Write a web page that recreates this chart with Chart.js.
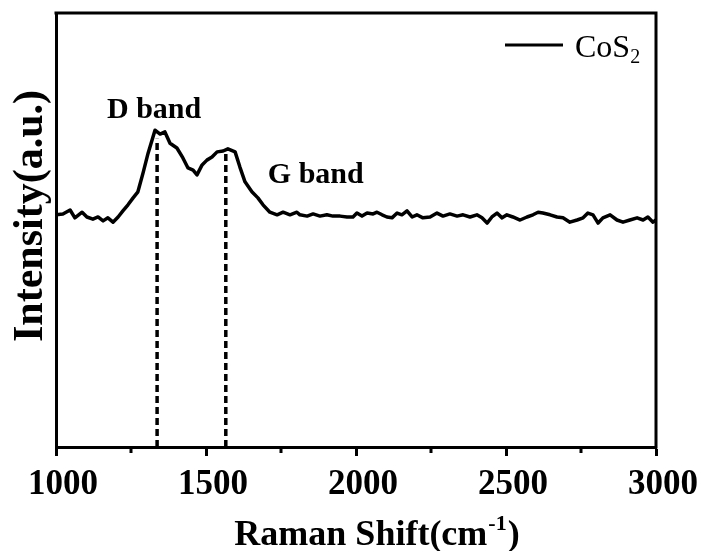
<!DOCTYPE html>
<html><head><meta charset="utf-8">
<script src="https://cdn.jsdelivr.net/npm/chart.js@4/dist/chart.umd.min.js"></script>
<style>html,body{margin:0;padding:0;background:#fff}#wrap{width:704px;height:551px}</style>
</head><body><div id="wrap"><canvas id="c" width="704" height="551"></canvas></div>
<script>
const ramanShift = [1000,1023,1047,1063,1087,1103,1123,1140,1157,1173,1190,1207,1223,1240,1257,1273,1290,1307,1320,1330,1347,1363,1380,1403,1423,1440,1457,1470,1487,1503,1520,1537,1557,1573,1597,1613,1630,1653,1673,1690,1713,1737,1757,1780,1803,1813,1837,1857,1880,1903,1923,1947,1970,1990,2003,2020,2037,2057,2070,2087,2103,2120,2137,2153,2170,2187,2203,2223,2247,2270,2290,2313,2337,2357,2380,2403,2420,2437,2453,2470,2487,2503,2523,2547,2570,2590,2607,2623,2647,2670,2690,2713,2737,2757,2773,2790,2807,2823,2847,2870,2890,2913,2937,2957,2973,2990,3000];
const intensity = [53.5,53.7,54.6,52.8,54.1,53.0,52.5,53.0,52.1,52.8,51.8,53.0,54.4,55.8,57.4,58.8,63.1,67.7,70.7,73.0,72.1,72.6,70.0,68.9,66.6,64.3,63.8,62.7,65.0,66.1,66.8,68.0,68.2,68.7,68.0,64.5,61.1,58.8,57.4,55.8,54.1,53.5,54.1,53.5,54.1,53.5,53.2,53.7,53.2,53.5,53.2,53.2,53.0,53.0,53.9,53.2,53.9,53.7,54.1,53.5,53.0,52.8,53.9,53.5,54.4,53.0,53.5,52.8,53.0,53.9,53.2,53.7,53.2,53.5,53.0,53.5,52.8,51.6,53.0,53.9,52.8,53.5,53.0,52.3,53.0,53.5,54.1,53.9,53.5,53.0,52.8,51.8,52.3,52.8,53.9,53.5,51.6,52.8,53.5,52.3,51.8,52.3,52.8,52.3,53.0,51.8,52.3];
const bandNames = ['D band', 'G band'];
const bandPositions = [1337, 1566];
const bandTops = [71, 67.5];
const xTickValues = [1000, 1500, 2000, 2500, 3000];
const xMinorTicks = [1250, 1750, 2250, 2750];
const seriesName = 'CoS';
const seriesSub = '2';

const SERIF = '"Liberation Serif", "Times New Roman", serif';

const framePlugin = {
  id: 'frame',
  afterDraw(chart) {
    const {ctx, chartArea: a, scales: {x, y}} = chart;
    ctx.save();
    ctx.strokeStyle = '#000';
    ctx.fillStyle = '#000';
    ctx.lineWidth = 3;
    ctx.beginPath();
    ctx.moveTo(a.left - 1.5, a.top);
    ctx.lineTo(a.right, a.top);
    ctx.lineTo(a.right, a.bottom + 1.5);
    ctx.stroke();
    ctx.beginPath();
    xMinorTicks.forEach(v => {
      const px = x.getPixelForValue(v);
      ctx.moveTo(px, a.bottom);
      ctx.lineTo(px, a.bottom + 6);
    });
    ctx.stroke();
    ctx.font = 'bold 30px ' + SERIF;
    ctx.textBaseline = 'alphabetic';
    ctx.textAlign = 'center';
    ctx.fillText(bandNames[0], x.getPixelForValue(bandPositions[0]) - 3, 118);
    ctx.textAlign = 'left';
    ctx.fillText(bandNames[1], x.getPixelForValue(bandPositions[1]) + 42, 183);
    const lx = a.right - 151;
    ctx.beginPath();
    ctx.moveTo(lx, 45);
    ctx.lineTo(lx + 58, 45);
    ctx.stroke();
    ctx.font = '32px ' + SERIF;
    ctx.fillText(seriesName, lx + 70, 57);
    const w = ctx.measureText(seriesName).width;
    ctx.font = '20px ' + SERIF;
    ctx.fillText(seriesSub, lx + 70 + w, 63);
    const t1 = 'Raman Shift(cm', t2 = '-1', t3 = ')';
    ctx.font = 'bold 36px ' + SERIF;
    const w1 = ctx.measureText(t1).width, w3 = ctx.measureText(t3).width;
    ctx.font = 'bold 22px ' + SERIF;
    const w2 = ctx.measureText(t2).width;
    const cx = (a.left + a.right) / 2 + 20;
    let sx = cx - (w1 + w2 + w3) / 2;
    const base = 545;
    ctx.font = 'bold 36px ' + SERIF;
    ctx.fillText(t1, sx, base);
    ctx.font = 'bold 22px ' + SERIF;
    ctx.fillText(t2, sx + w1 + 1, base - 15);
    ctx.font = 'bold 36px ' + SERIF;
    ctx.fillText(t3, sx + w1 + w2 + 2, base);
    ctx.translate(31, 216);
    ctx.rotate(-Math.PI / 2);
    ctx.font = 'bold 42px ' + SERIF;
    ctx.textAlign = 'center';
    ctx.textBaseline = 'middle';
    ctx.fillText('Intensity(a.u.)', 0, 0);
    ctx.restore();
  }
};

const dash = (pos, top) => ({
  data: [{x: pos, y: 0}, {x: pos, y: top}],
  borderColor: '#000', borderWidth: 3.5, borderDash: [7, 4],
  pointRadius: 0, borderCapStyle: 'butt'
});

new Chart(document.getElementById('c'), {
  type: 'line',
  data: {
    datasets: [
      {
        label: 'CoS2',
        data: ramanShift.map((v, i) => ({x: v, y: intensity[i]})),
        borderColor: '#000', borderWidth: 3.5, pointRadius: 0,
        borderJoinStyle: 'round', borderCapStyle: 'round', tension: 0
      },
      dash(bandPositions[0], bandTops[0]),
      dash(bandPositions[1], bandTops[1])
    ]
  },
  options: {
    responsive: false,
    animation: false,
    devicePixelRatio: 1,
    layout: {padding: {top: 13, right: 48, left: 0, bottom: 0}},
    plugins: {legend: {display: false}, tooltip: {enabled: false}},
    scales: {
      x: {
        type: 'linear', min: 1000, max: 3000,
        afterBuildTicks: s => { s.ticks = xTickValues.map(v => ({value: v})); },
        afterFit: s => { s.height = 104; },
        ticks: {
          color: '#000', padding: 8, labelOffset: 7, maxRotation: 0, autoSkip: false,
          callback: v => String(v),
          font: {family: SERIF, size: 35, weight: 'bold'}
        },
        grid: {display: true, drawOnChartArea: false, drawTicks: true, tickLength: 9, tickWidth: 3, tickColor: '#000'},
        border: {display: true, color: '#000', width: 3}
      },
      y: {
        min: 0, max: 100,
        afterFit: s => { s.width = 56; },
        ticks: {display: false},
        grid: {display: false},
        border: {display: true, color: '#000', width: 3}
      }
    }
  },
  plugins: [framePlugin]
});
</script></body></html>
